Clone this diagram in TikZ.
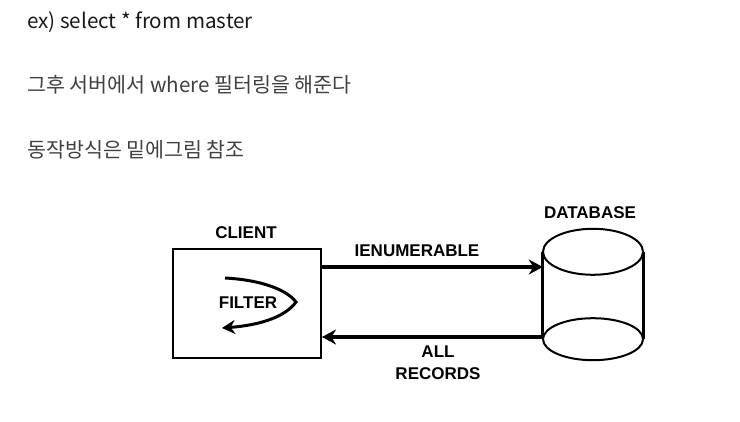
\documentclass[tikz,border=0pt]{standalone}
\usepackage{fontspec}
\setmainfont{Noto Sans CJK KR}
\newfontfamily\labelfont{Liberation Sans}
\usepackage{tikz}
\usetikzlibrary{arrows.meta}

\begin{document}
\begin{tikzpicture}[
  x = 1pt, y = -1pt,
  line/.style = {anchor = base west, inner sep = 0pt, font = \fontsize{20.6}{22}\selectfont},
  tag/.style = {font = \labelfont\bfseries\fontsize{17}{19}\selectfont, inner sep = 0pt},
  flow/.style = {line width = 3.5pt, -{Stealth[length = 14pt, width = 15pt]}}
  ]
  \useasboundingbox (0,0) rectangle (740,422);
  % text above the picture
  \node[line, text = black!90] (l1) at (27,29) {ex) select * from master};
  \node[line, text = black!75] (l2) at (27,93) {그후 서버에서 where 필터링을 해준다};
  \node[line, text = black!75] (l3) at (27,158) {동작방식은 밑에그림 참조};

  % client
  \node[draw, line width = 2pt, minimum width = 148pt, minimum height = 109pt,
        inner sep = 0pt] (client) at (247,303.5) {};
  \node[tag] (clientname) at (246,233) {CLIENT};
  \node[tag] (filter) at (248,303) {FILTER};
  \draw[line width = 3pt, -{Stealth[length = 13pt, width = 14pt]}]
    (225,278) .. controls (262,280) and (287,290) .. (296,302)
    .. controls (286,316) and (262,325) .. (222,328);

  % database
  \node[inner sep = 0pt, minimum width = 100pt, minimum height = 87pt] (db) at (593,295.5) {};
  \node[tag] (dbname) at (590,213) {DATABASE};
  \draw[line width = 2pt] (db.north) ellipse (50pt and 23pt);
  \draw[line width = 2pt] (db.south) ellipse (50pt and 21pt);
  \draw[line width = 3pt] (db.north west) -- (db.south west)
                          (db.north east) -- (db.south east);

  % flows
  \draw[flow] (client.east |- 0,267) -- (db.west |- 0,267);
  \draw[flow] (db.west |- 0,337) -- (client.east |- 0,337);
  \node[tag] (ienum) at (417,251) {IENUMERABLE};
  \node[tag, align = center] (records) at (438,363) {ALL\\[3pt]RECORDS};
\end{tikzpicture}
\end{document}
